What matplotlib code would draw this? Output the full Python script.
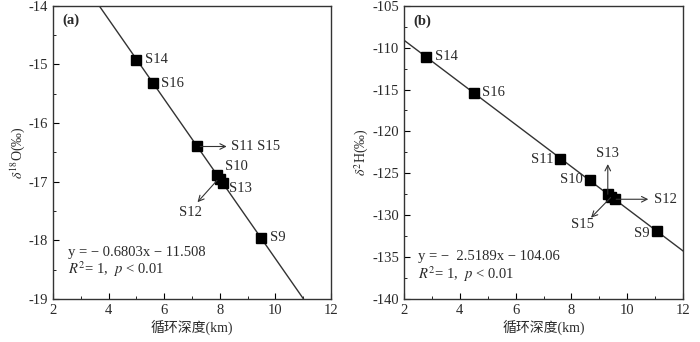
import numpy as np
import matplotlib.pyplot as plt
from matplotlib.ticker import MultipleLocator

plt.rcParams['font.family'] = ['Liberation Serif', 'Noto Sans CJK SC']
plt.rcParams['mathtext.fontset'] = 'stix'
plt.rcParams['axes.unicode_minus'] = False

# panel (a): delta 18O vs circulation depth
depth_o = [5.0, 5.6, 7.2, 7.9, 8.0, 8.1, 9.5]
d18o = [-14.92, -15.32, -16.40, -16.88, -16.95, -17.02, -17.96]

# panel (b): delta 2H vs circulation depth
depth_h = [2.8, 4.5, 7.6, 8.65, 9.3, 9.4, 9.55, 11.05]
d2h = [-111.1, -115.4, -123.3, -125.8, -127.5, -127.8, -128.1, -131.9]

fig = plt.figure(figsize=(7, 3.42), dpi=100)
ax1 = fig.add_axes([0.0757, 0.126, 0.397, 0.857])
ax2 = fig.add_axes([0.577, 0.126, 0.399, 0.857])

fs = 10.5
col = '#2a2a2a'
lab = dict(fontsize=fs, color=col)
arr = dict(arrowstyle='->', color='#333333', lw=0.8, shrinkA=0, shrinkB=0)

# (a)
xa = np.linspace(2, 12, 50)
ax1.plot(xa, -0.6803 * xa - 11.508, color='#333333', lw=1)
ax1.plot(depth_o, d18o, 's', color='black', ms=6.5)
ax1.set_xlim(2, 12)
ax1.set_ylim(-19, -14)
ax1.xaxis.set_major_locator(MultipleLocator(2))
ax1.xaxis.set_minor_locator(MultipleLocator(1))
ax1.yaxis.set_major_locator(MultipleLocator(1))
ax1.yaxis.set_minor_locator(MultipleLocator(0.5))
ax1.set_ylabel(r'$\delta^{18}$O(‰)', fontsize=fs - 0.5, labelpad=1, color=col)
ax1.set_xlabel('循环深度(km)', fontsize=fs - 0.5, labelpad=2, color=col)
ax1.text(2.35, -14.3, '(a)', fontsize=fs, fontweight='bold', color=col)
ax1.text(5.3, -14.92, 'S14', va='center', **lab)
ax1.text(5.9, -15.32, 'S16', va='center', **lab)
ax1.annotate('', xy=(8.25, -16.40), xytext=(7.3, -16.40), arrowprops=arr)
ax1.text(8.4, -16.40, 'S11 S15', va='center', **lab)
ax1.text(8.2, -16.74, 'S10', va='center', **lab)
ax1.text(8.35, -17.12, 'S13', va='center', **lab)
ax1.annotate('', xy=(7.2, -17.35), xytext=(7.9, -16.98), arrowprops=arr)
ax1.text(6.95, -17.53, 'S12', va='center', ha='center', **lab)
ax1.text(9.8, -17.96, 'S9', va='center', **lab)
ax1.text(2.55, -18.21, 'y = − 0.6803x − 11.508', va='center', **lab)
ax1.text(2.55, -18.5, r'$R^2$= 1,  $p$ < 0.01', va='center', **lab)

# (b)
ax2.plot(xa, -2.5189 * xa - 104.06, color='#333333', lw=1)
ax2.plot(depth_h, d2h, 's', color='black', ms=6.5)
ax2.set_xlim(2, 12)
ax2.set_ylim(-140, -105)
ax2.xaxis.set_major_locator(MultipleLocator(2))
ax2.xaxis.set_minor_locator(MultipleLocator(1))
ax2.yaxis.set_major_locator(MultipleLocator(5))
ax2.yaxis.set_minor_locator(MultipleLocator(2.5))
ax2.set_ylabel(r'$\delta^{2}$H(‰)', fontsize=fs - 0.5, labelpad=1, color=col)
ax2.set_xlabel('循环深度(km)', fontsize=fs - 0.5, labelpad=2, color=col)
ax2.text(2.35, -107.3, '(b)', fontsize=fs, fontweight='bold', color=col)
ax2.text(3.1, -111.1, 'S14', va='center', **lab)
ax2.text(4.8, -115.4, 'S16', va='center', **lab)
ax2.text(7.35, -123.3, 'S11', va='center', ha='right', **lab)
ax2.text(8.4, -125.8, 'S10', va='center', ha='right', **lab)
ax2.annotate('', xy=(9.3, -123.9), xytext=(9.3, -127.5), arrowprops=arr)
ax2.text(9.3, -122.6, 'S13', va='center', ha='center', **lab)
ax2.annotate('', xy=(10.75, -128.1), xytext=(9.6, -128.1), arrowprops=arr)
ax2.text(10.95, -128.1, 'S12', va='center', **lab)
ax2.annotate('', xy=(8.7, -130.3), xytext=(9.4, -127.9), arrowprops=arr)
ax2.text(8.4, -131.1, 'S15', va='center', ha='center', **lab)
ax2.text(10.8, -132.2, 'S9', va='center', ha='right', **lab)
ax2.text(2.5, -134.9, 'y = −  2.5189x − 104.06', va='center', **lab)
ax2.text(2.5, -137.0, r'$R^2$= 1,  $p$ < 0.01', va='center', **lab)

for ax in (ax1, ax2):
    ax.tick_params(which='both', direction='in', top=False, right=False,
                   labelsize=fs, labelcolor=col)
    ax.tick_params(which='major', length=4)
    ax.tick_params(which='minor', length=2)
    for s in ax.spines.values():
        s.set_linewidth(1)
        s.set_color('#333333')

fig.savefig('out.png', dpi=100)
